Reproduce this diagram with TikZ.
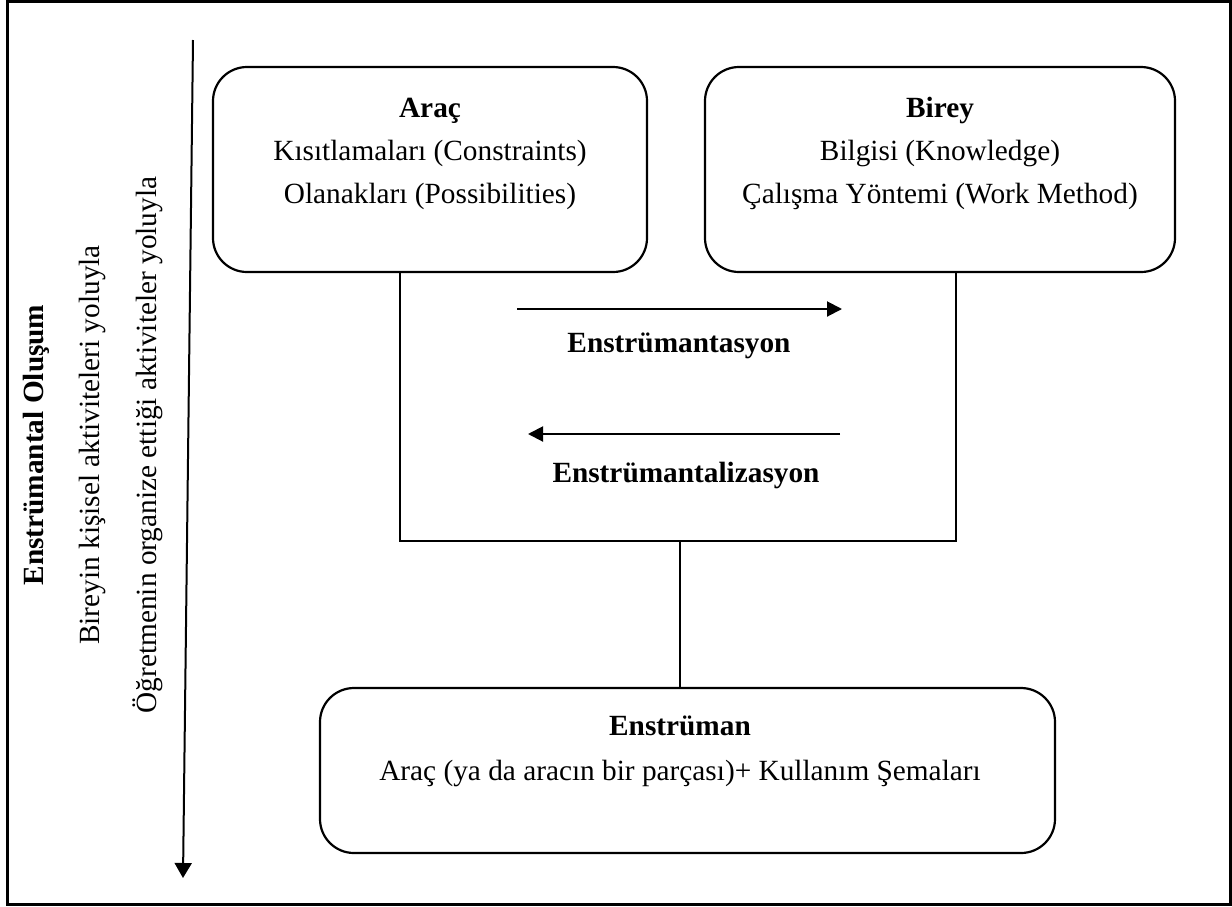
\documentclass[tikz,border=0pt]{standalone}
\usepackage{fontspec}
\setmainfont{Liberation Serif}
\usetikzlibrary{arrows.meta}
\begin{document}
\begin{tikzpicture}[x=0.5pt,y=-0.5pt,
  every node/.style={font=\fontsize{14.65pt}{17pt}\selectfont, inner sep=0pt},
  roundbox/.style={draw, line width=1.1pt, rounded corners=17pt},
  txt/.style={anchor=base},
  vtxt/.style={anchor=base, rotate=90},
  conn/.style={line width=1.1pt},
  harrow/.style={line width=1pt, -{Triangle[length=7.5pt,width=7.5pt]}},
  varrow/.style={line width=1pt, -{Triangle[length=7.5pt,width=8.5pt]}},
]
\useasboundingbox (0,0) rectangle (1232,906);
\clip (0,0) rectangle (1232,906);
\fill[white] (0,0) rectangle (1232,906);
% outer frame
\draw[line width=1.6pt] (7.5,1) rectangle (1230.5,904.5);

% left vertical arrow and texts
\coordinate (vtop) at (193,40);
\coordinate (vbot) at (183,878);
\draw[varrow] (vtop) -- (vbot);
\node[vtxt, font=\fontsize{14.65pt}{17pt}\selectfont\bfseries] (t1) at (43,445) {Enstrümantal Oluşum};
\node[vtxt] (t2) at (99,445) {Bireyin kişisel aktiviteleri yoluyla};
\node[vtxt] (t3) at (156,445) {Öğretmenin organize ettiği aktiviteler yoluyla};

% boxes
\node[roundbox, minimum width=217pt, minimum height=102.5pt] (arac) at (430,169.5) {};
\node[roundbox, minimum width=235pt, minimum height=102.5pt] (birey) at (940,169.5) {};
\node[roundbox, minimum width=367.5pt, minimum height=82.5pt] (enst) at (687.5,770.5) {};

% box texts
\node[txt, font=\fontsize{14.65pt}{17pt}\selectfont\bfseries] (a1) at (430,117) {Araç};
\node[txt] (a2) at (430,160) {Kısıtlamaları (Constraints)};
\node[txt] (a3) at (430,203) {Olanakları (Possibilities)};
\node[txt, font=\fontsize{14.65pt}{17pt}\selectfont\bfseries] (b1) at (940,117) {Birey};
\node[txt] (b2) at (940,160) {Bilgisi (Knowledge)};
\node[txt] (b3) at (940,203) {Çalışma Yöntemi (Work Method)};
\node[txt, font=\fontsize{14.65pt}{17pt}\selectfont\bfseries] (e1) at (680,735) {Enstrüman};
\node[txt] (e2) at (680,780) {Araç (ya da aracın bir parçası)+ Kullanım Şemaları};

% connectors
\coordinate (jl) at (400,541);
\coordinate (jr) at (956,541);
\coordinate (jm) at (680,541);
\draw[conn] (arac.south -| jl) -- (jl) -- (jr) -- (birey.south -| jr);
\draw[conn] (jm) -- (enst.north -| jm);

% middle arrows
\coordinate (r1s) at (517,309);
\coordinate (r1e) at (842,309);
\coordinate (r2s) at (840,434);
\coordinate (r2e) at (528,434);
\draw[harrow] (r1s) -- (r1e);
\draw[harrow] (r2s) -- (r2e);
\node[txt, font=\fontsize{14.65pt}{17pt}\selectfont\bfseries] (l1) at (679,352) {Enstrümantasyon};
\node[txt, font=\fontsize{14.65pt}{17pt}\selectfont\bfseries] (l2) at (686,482) {Enstrümantalizasyon};
\end{tikzpicture}
\end{document}
